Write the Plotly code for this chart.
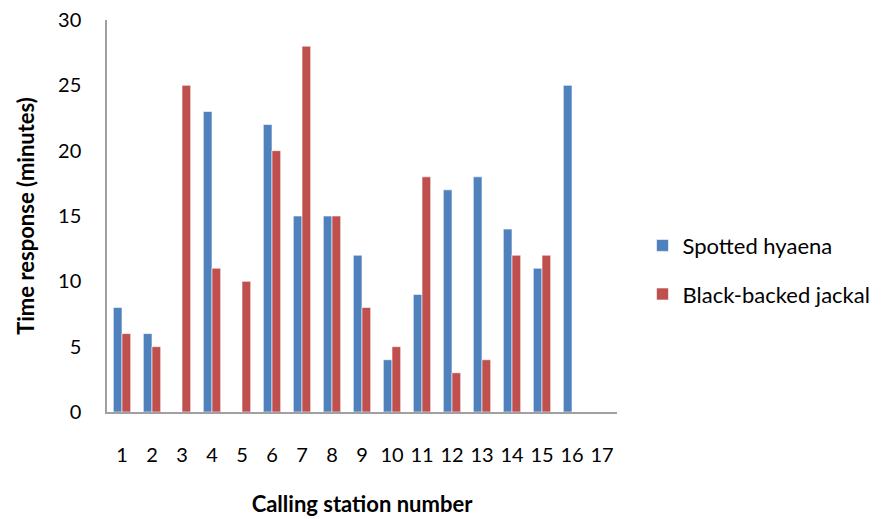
import plotly.graph_objects as go

stations = [str(i) for i in range(1, 18)]
hyaena = [8, 6, 0, 23, 0, 22, 15, 15, 12, 4, 9, 17, 18, 14, 11, 25, 0]
jackal = [6, 5, 25, 11, 10, 20, 28, 15, 8, 5, 18, 3, 4, 12, 12, 0, 0]
y_ticks = [0, 5, 10, 15, 20, 25, 30]

FONT = "Lato, Carlito, Calibri, sans-serif"

fig = go.Figure()
fig.add_trace(go.Bar(x=stations, y=hyaena, name="Spotted hyaena", legendgroup="a",
                     marker=dict(color="#4F81BD", line=dict(color="rgba(255,255,255,0.6)", width=1))))
fig.add_trace(go.Bar(x=stations, y=jackal, name="Black-backed jackal", legendgroup="b",
                     marker=dict(color="#C0504D", line=dict(color="rgba(255,255,255,0.6)", width=1))))

# page body has an 8px default margin, so the figure is sized/margined to compensate
fig.update_layout(
    width=879, height=511,
    margin=dict(l=99, r=270, t=12, b=107),
    paper_bgcolor="white", plot_bgcolor="white",
    barmode="group", bargap=0.42, bargroupgap=0,
    font=dict(family=FONT, size=19, color="#000000"),
    legend=dict(x=1.05, xanchor="left", y=0.362, yanchor="middle",
                font=dict(size=22), tracegroupgap=17, itemwidth=30),
    xaxis=dict(type="category", showline=True, linecolor="#A0A0A0", linewidth=1.5,
               showgrid=False, ticks="", ticklabelstandoff=24, automargin=False,
               tickfont=dict(size=20),
               title=dict(text="<b>Calling station number</b>", font=dict(size=22), standoff=32)),
    yaxis=dict(range=[0, 30], tickvals=y_ticks, showline=True, linecolor="#A0A0A0", linewidth=1.5,
               showgrid=False, ticks="", ticklabelstandoff=20, zeroline=False, automargin=False,
               ticklabeloverflow="allow",
               tickfont=dict(size=20),
               title=dict(text="<b>Time response (minutes)</b>", font=dict(size=22), standoff=17)),
)

fig.write_html("out.html")
